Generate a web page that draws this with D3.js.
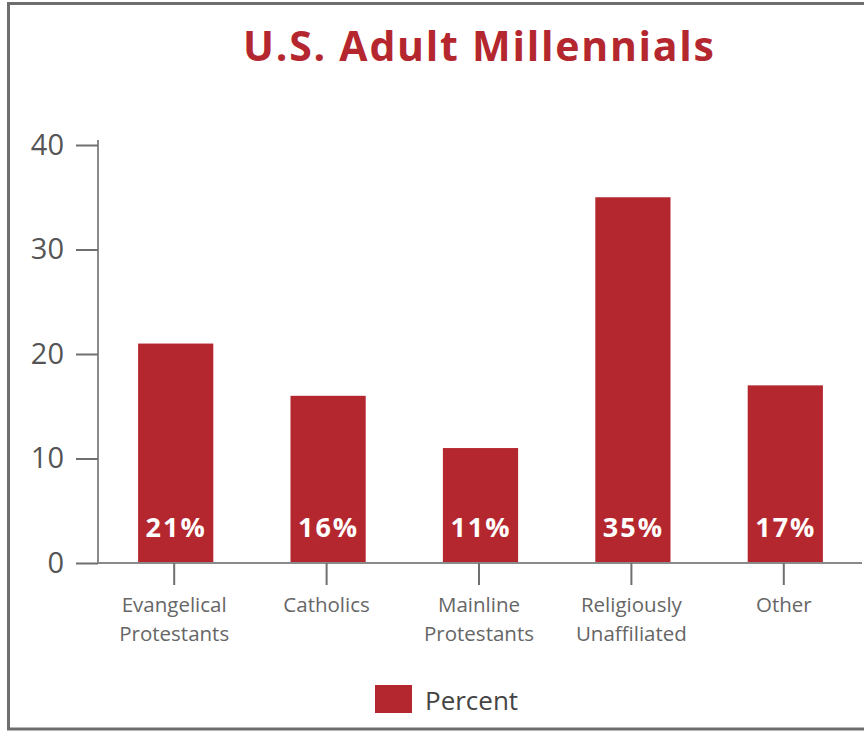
<!DOCTYPE html>
<html>
<head>
<meta charset="utf-8">
<script src="https://cdn.jsdelivr.net/npm/d3@7"></script>
<style>
  body { margin: 0; background: #fff; }
  svg { display: block; }
</style>
</head>
<body>
<svg id="chart" width="864" height="731"></svg>
<script>
// data
const categories = [
  "Evangelical Protestants",
  "Catholics",
  "Mainline Protestants",
  "Religiously Unaffiliated",
  "Other"
]
const percents = [21, 16, 11, 35, 17]
const yTicks = [0, 10, 20, 30, 40]
const seriesName = "Percent"
const title = "U.S. Adult Millennials"

const red = "#b5272e"
const width = 864
const height = 731
const margin = { top: 145, right: 4, bottom: 168, left: 98 }

const svg = d3.select("#chart")
const data = categories.map((c, i) => ({ name: c, value: percents[i] }))

// frame
svg.append("path")
  .attr("d", `M${width + 5},3.5 H8.5 V729 H${width + 5}`)
  .attr("fill", "none")
  .attr("stroke", "#6e6e6e")
  .attr("stroke-width", 3)

svg.append("text")
  .attr("x", 243)
  .attr("y", 61)
  .attr("textLength", 471)
  .attr("lengthAdjust", "spacing")
  .attr("fill", red)
  .attr("font-family", "Open Sans")
  .attr("font-weight", 700)
  .attr("font-size", 41)
  .text(title)

const x = d3.scaleBand()
  .domain(categories)
  .range([margin.left, width - margin.right])
  .paddingInner(0.5)
  .paddingOuter(0.25)

const y = d3.scaleLinear()
  .domain([0, 40])
  .range([height - margin.bottom, margin.top])

// bars
svg.append("g")
  .attr("fill", red)
  .selectAll("rect")
  .data(data)
  .join("rect")
  .attr("x", d => x(d.name) + 2)
  .attr("y", d => y(d.value))
  .attr("width", x.bandwidth() - 1)
  .attr("height", d => y(0) - y(d.value))

// value labels
svg.append("g")
  .selectAll("text")
  .data(data)
  .join("text")
  .attr("x", d => x(d.name) + x.bandwidth() / 2 + 2)
  .attr("y", y(0) - 26)
  .attr("text-anchor", "middle")
  .attr("fill", "#fff")
  .attr("font-family", "Open Sans")
  .attr("font-weight", 700)
  .attr("font-size", 27)
  .attr("letter-spacing", 2)
  .text(d => d.value + "%")

// y axis
const yAxis = svg.append("g")
  .attr("transform", `translate(${margin.left},0)`)
  .call(d3.axisLeft(y).tickValues(yTicks).tickSize(22).tickSizeOuter(0).tickPadding(12))
yAxis.select(".domain")
  .attr("d", `M0,${margin.top - 5}V${y(0)}`)
  .attr("stroke", "#8a8a8a").attr("stroke-width", 2)
yAxis.selectAll(".tick line").attr("stroke", "#6f6f6f").attr("stroke-width", 2)
yAxis.selectAll(".tick text")
  .attr("fill", "#555")
  .attr("font-family", "Open Sans")
  .attr("font-size", 29)

// x axis
const xAxis = svg.append("g")
  .attr("transform", `translate(0,${y(0)})`)
  .call(d3.axisBottom(x).tickSize(22).tickSizeOuter(0).tickFormat(""))
xAxis.select(".domain")
  .attr("d", `M${margin.left},0H${width - 2}`)
  .attr("stroke", "#8a8a8a").attr("stroke-width", 2)
xAxis.selectAll(".tick line").attr("stroke", "#6f6f6f").attr("stroke-width", 2)
xAxis.selectAll(".tick text").remove()

// category labels, split on the first space
const labels = svg.append("g")
  .attr("fill", "#666")
  .attr("font-family", "Open Sans")
  .attr("font-size", 20.5)
  .attr("text-anchor", "middle")
categories.forEach(c => {
  const words = c.split(" ")
  const lines = words.length > 1 ? [words[0], words.slice(1).join(" ")] : [c]
  lines.forEach((l, i) => {
    labels.append("text")
      .attr("x", x(c) + x.bandwidth() / 2)
      .attr("y", y(0) + 49 + i * 29)
      .text(l)
  })
})

// legend
const legend = svg.append("g").attr("transform", "translate(375,685)")
legend.append("rect").attr("width", 37).attr("height", 28).attr("fill", red)
legend.append("text")
  .attr("x", 50)
  .attr("y", 25)
  .attr("fill", "#444")
  .attr("font-family", "Open Sans")
  .attr("font-size", 26)
  .text(seriesName)
</script>
</body>
</html>
